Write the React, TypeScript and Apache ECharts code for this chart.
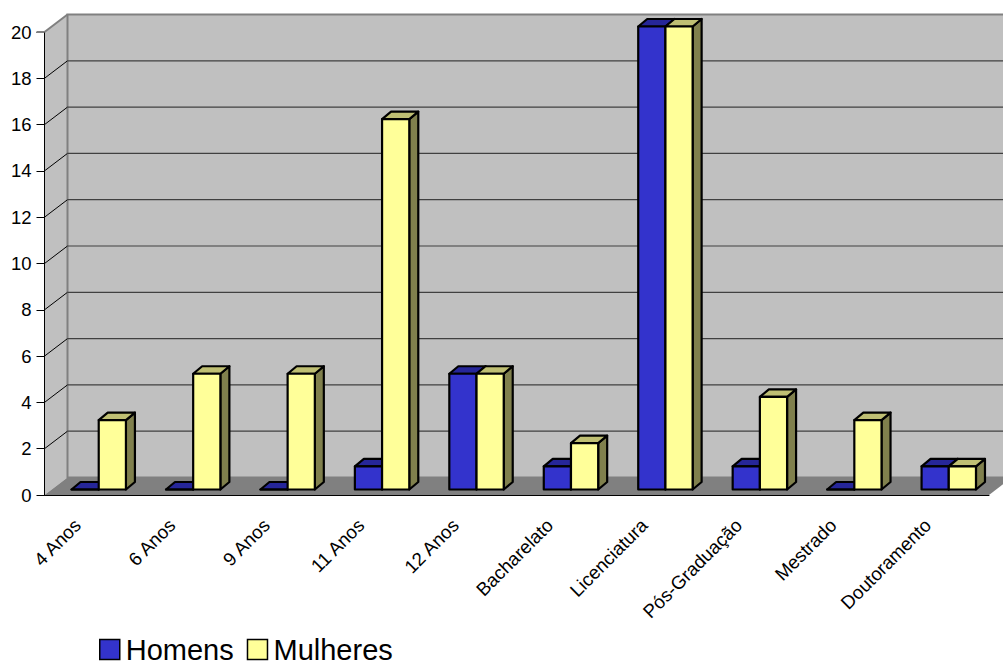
import React, { useEffect, useRef } from "react";
import * as echarts from "echarts";

const categories = ["4 Anos", "6 Anos", "9 Anos", "11 Anos", "12 Anos", "Bacharelato", "Licenciatura", "Pós-Graduação", "Mestrado", "Doutoramento"];
const homens = [0, 0, 0, 1, 5, 1, 20, 1, 0, 1];
const mulheres = [3, 5, 5, 16, 5, 2, 20, 4, 3, 1];
const gridValues = [2, 4, 6, 8, 10, 12, 14, 16, 18];

const FONT = "'Liberation Sans', Arial, sans-serif";
const WALL_DX = 23;
const WALL_DY = -17.5;
const BAR_SHIFT_X = 7;
const BAR_SHIFT_Y = -5.5;
const BAR_DX = 9;
const BAR_DY = -7.5;
const BAR_FRAC = 0.288;

const BLUE = { front: "#3333CC", top: "#262699", side: "#1F1F80" };
const YELLOW = { front: "#FFFF99", top: "#BFBF73", side: "#80804D" };

function barRenderer(col: typeof BLUE, slot: number) {
  return (_p: any, api: any) => {
    const i = api.value(0);
    const [cx, y0] = api.coord([i, 0]);
    const [, y1] = api.coord([i, api.value(1)]);
    const w = api.size([1, 0])[0] * BAR_FRAC;
    const l = cx + BAR_SHIFT_X + slot * w;
    const r = l + w;
    const b = y0 + BAR_SHIFT_Y;
    const t = y1 + BAR_SHIFT_Y;
    const style = (fill: string) => ({ fill, stroke: "#000", lineWidth: 2.2, lineJoin: "round" });
    const poly = (pts: number[][], fill: string) => ({ type: "polygon", shape: { points: pts }, style: style(fill) });
    return {
      type: "group",
      children: [
        poly([[r, t], [r + BAR_DX, t + BAR_DY], [r + BAR_DX, b + BAR_DY], [r, b]], col.side),
        poly([[l, t], [l + BAR_DX, t + BAR_DY], [r + BAR_DX, t + BAR_DY], [r, t]], col.top),
        poly([[l, t], [r, t], [r, b], [l, b]], col.front),
      ],
    };
  };
}

export default function App() {
  const ref = useRef<HTMLDivElement>(null);
  useEffect(() => {
    document.body.style.margin = "0";
    const chart = echarts.init(ref.current!, undefined, { renderer: "svg" });
    chart.setOption({
      animation: false,
      backgroundColor: "#fff",
      grid: { left: 44.5, right: 14, top: 32, bottom: 166 },
      legend: {
        left: 99,
        top: 635,
        itemWidth: 20,
        itemHeight: 20,
        itemGap: 13,
        padding: 0,
        textStyle: { fontFamily: FONT, fontSize: 29, lineHeight: 24, color: "#000", padding: [0, 0, 0, 1] },
        data: [
          { name: "Homens", icon: "rect", itemStyle: { color: BLUE.front, borderColor: "#000", borderWidth: 1.5 } },
          { name: "Mulheres", icon: "rect", itemStyle: { color: YELLOW.front, borderColor: "#000", borderWidth: 1.5 } },
        ],
      },
      xAxis: {
        type: "category",
        data: categories,
        z: 5,
        axisLine: { lineStyle: { color: "#000", width: 1 } },
        axisTick: { length: 8, lineStyle: { color: "#333" } },
        axisLabel: { rotate: 45, interval: 0, margin: 13, padding: [0, 20, 0, 0], fontFamily: FONT, fontSize: 18.7, color: "#000" },
        splitLine: { show: false },
      },
      yAxis: {
        type: "value",
        min: 0,
        max: 20,
        interval: 2,
        z: 5,
        axisLine: { show: true, lineStyle: { color: "#000", width: 1 } },
        axisTick: { show: true, length: 8, lineStyle: { color: "#000" } },
        axisLabel: { margin: 13, fontFamily: FONT, fontSize: 18.5, color: "#000" },
        splitLine: { show: false },
      },
      series: [
        {
          type: "custom",
          name: "walls",
          z: 1,
          silent: true,
          data: [[0, 0]],
          renderItem: (p: any) => {
            const { x, y, width, height } = p.coordSys;
            const yb = y + height;
            const xr = x + width;
            const edge = { stroke: "#808080", lineWidth: 2 };
            return {
              type: "group",
              children: [
                { type: "polygon", shape: { points: [[x, y], [x + WALL_DX, y + WALL_DY], [x + WALL_DX, yb + WALL_DY], [x, yb]] }, style: { fill: "#C0C0C0" } },
                { type: "rect", shape: { x: x + WALL_DX, y: y + WALL_DY, width: width, height: height }, style: { fill: "#C0C0C0", ...edge } },
                { type: "polygon", shape: { points: [[x, yb], [x + WALL_DX, yb + WALL_DY], [xr + WALL_DX, yb + WALL_DY], [xr, yb]] }, style: { fill: "#808080" } },
              ],
            };
          },
        },
        {
          type: "custom",
          name: "grid",
          z: 2,
          silent: true,
          data: gridValues.map((v) => [0, v]),
          renderItem: (p: any, api: any) => {
            const { x, width } = p.coordSys;
            const yy = api.coord([0, api.value(1)])[1];
            return {
              type: "group",
              children: [
                { type: "line", shape: { x1: x, y1: yy, x2: x + WALL_DX, y2: yy + WALL_DY }, style: { stroke: "#000", lineWidth: 1 } },
                { type: "line", shape: { x1: x + WALL_DX, y1: yy + WALL_DY, x2: x + WALL_DX + width, y2: yy + WALL_DY }, style: { stroke: "#404040", lineWidth: 1.2 } },
              ],
            };
          },
        },
        {
          type: "custom",
          name: "Homens",
          z: 3,
          data: homens.map((v, i) => [i, v]),
          itemStyle: { color: BLUE.front },
          encode: { x: 0, y: 1 },
          renderItem: barRenderer(BLUE, -1),
        },
        {
          type: "custom",
          name: "Mulheres",
          z: 3,
          data: mulheres.map((v, i) => [i, v]),
          itemStyle: { color: YELLOW.front },
          encode: { x: 0, y: 1 },
          renderItem: barRenderer(YELLOW, 0),
        },
        {
          type: "custom",
          name: "frame",
          z: 6,
          silent: true,
          data: [[0, 20]],
          renderItem: (p: any) => {
            const { x, y } = p.coordSys;
            const s = { stroke: "#808080", lineWidth: 2 };
            return {
              type: "group",
              children: [
                { type: "line", shape: { x1: x - 8, y1: y, x2: x, y2: y }, style: s },
                { type: "line", shape: { x1: x, y1: y, x2: x + WALL_DX, y2: y + WALL_DY }, style: s },
              ],
            };
          },
        },
      ],
    });
    return () => chart.dispose();
  }, []);
  return <div ref={ref} style={{ width: 1003, height: 661 }} />;
}
